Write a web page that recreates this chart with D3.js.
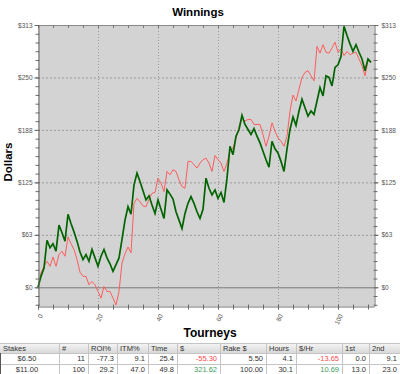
<!DOCTYPE html>
<html>
<head>
<meta charset="utf-8">
<script src="https://cdn.jsdelivr.net/npm/d3@7"></script>
<style>
  body { margin: 0; background: #fff; }
  svg { display: block; font-family: "Liberation Sans", Arial, sans-serif; }
</style>
</head>
<body>
<div id="mainDiv"></div>
<script>
'use strict';

// cumulative dollars after each tourney (green = actual, red = second line)
var winnings = [
  0, 13, 23, 56, 47, 52, 43, 74, 65, 55,
  87, 76, 66, 55, 42, 33, 39, 31, 45, 35,
  25, 37, 45, 35, 28, 19, 27, 35, 57, 80,
  96, 87, 122, 136, 126, 115, 104, 109, 98, 88,
  104, 93, 82, 116, 111, 105, 90, 80, 70, 88,
  100, 108, 100, 90, 82, 93, 130, 118, 110, 116,
  106, 113, 101, 130, 168, 158, 180, 188, 205, 194,
  188, 182, 189, 180, 172, 162, 152, 143, 174, 165,
  160, 150, 138, 165, 188, 203, 193, 210, 224, 214,
  204, 210, 206, 222, 238, 228, 252, 250, 240, 262,
  265, 275, 311, 300, 290, 281, 289, 280, 272, 258,
  272, 268
];
var expected = [
  0, 17, 25, 31, 25, 36, 25, 39, 43, 37,
  60, 52, 45, 33, 18, 13, 13, 3, 7, 3,
  -5, -13, 1, -5, -5, -13, -21, -5, 29, 40,
  48, 41, 100, 106, 102, 97, 96, 105, 112, 113,
  130, 124, 114, 138, 134, 140, 138, 128, 120, 118,
  150, 150, 146, 142, 148, 152, 154, 148, 138, 157,
  152, 148, 138, 148, 162, 166, 178, 190, 202, 198,
  200, 200, 194, 194, 194, 182, 168, 180, 196, 186,
  178, 174, 168, 180, 210, 229, 222, 236, 250, 256,
  258, 252, 246, 287, 279, 289, 280, 279, 285, 292,
  280, 284, 276, 281, 277, 279, 280, 272, 264, 252,
  270, 268
];

var yTicks = [0, 62.5, 125, 187.5, 250, 312.5];
var xTicks = [0, 20, 40, 60, 80, 100];

// table
var tableCols = ['Stakes', '#', 'ROI%', 'ITM%', 'Time', '$', 'Rake $', 'Hours', '$/Hr', '1st', '2nd'];
var tableRows = [
  ['$6.50', '11', '-77.3', '9.1', '25.4', '-55.30', '5.50', '4.1', '-13.65', '0.0', '9.1'],
  ['$11.00', '100', '29.2', '47.0', '49.8', '321.62', '100.00', '30.1', '10.69', '13.0', '23.0']
];
var colEdges = [0, 59, 88, 117, 148, 177, 220, 266, 296, 342, 369, 400];

var W = 400, H = 374;
var plot = {left: 38, right: 374, top: 25, bottom: 306};

var svg = d3.select('#mainDiv').append('svg')
  .attr('width', W)
  .attr('height', H);

var x = d3.scaleLinear().domain([0, 112]).range([plot.left, plot.right]);
var y = d3.scaleLinear().domain([-22.3, 312.5]).range([plot.bottom, plot.top]);

// title
svg.append('text')
  .attr('x', 198).attr('y', 16)
  .attr('text-anchor', 'middle')
  .style('font-size', '11.5px').style('font-weight', 'bold')
  .text('Winnings');

svg.append('text')
  .attr('transform', 'translate(12,' + 162 + ') rotate(-90)')
  .attr('text-anchor', 'middle')
  .style('font-size', '11.5px').style('font-weight', 'bold')
  .text('Dollars');

// plot background
svg.append('rect')
  .attr('x', plot.left).attr('y', plot.top)
  .attr('width', plot.right - plot.left)
  .attr('height', plot.bottom - plot.top)
  .attr('fill', '#d3d3d3');

// grid
svg.append('g').selectAll('line')
  .data(yTicks.filter(function(d) { return d > 0 && d < 312.5; }))
  .enter().append('line')
  .attr('x1', plot.left).attr('x2', plot.right)
  .attr('y1', function(d) { return y(d) + 0.5; })
  .attr('y2', function(d) { return y(d) + 0.5; })
  .attr('stroke', '#9a9a9a').attr('stroke-dasharray', '2,2');

svg.append('g').selectAll('line')
  .data(xTicks.filter(function(d) { return d > 0; }))
  .enter().append('line')
  .attr('x1', function(d) { return x(d) + 0.5; })
  .attr('x2', function(d) { return x(d) + 0.5; })
  .attr('y1', plot.top).attr('y2', plot.bottom)
  .attr('stroke', '#9a9a9a').attr('stroke-dasharray', '1,2');

svg.append('line')
  .attr('x1', plot.left).attr('x2', plot.right)
  .attr('y1', y(0) + 0.5).attr('y2', y(0) + 0.5)
  .attr('stroke', '#7a7a7a');

// top border with small inward ticks
svg.append('line')
  .attr('x1', plot.left).attr('x2', plot.right)
  .attr('y1', plot.top + 0.5).attr('y2', plot.top + 0.5)
  .attr('stroke', '#8a8a8a');

var minorX = d3.range(0, 113, 5);
var minorY = d3.range(-2, 31).map(function(k) { return k * 312.5 / 30; });

svg.append('g').selectAll('line')
  .data(minorX)
  .enter().append('line')
  .attr('x1', function(d) { return x(d) + 0.5; })
  .attr('x2', function(d) { return x(d) + 0.5; })
  .attr('y1', plot.top).attr('y2', plot.top + 3)
  .attr('stroke', '#777');

// lines
var line = d3.line()
  .x(function(d, i) { return x(i); })
  .y(function(d) { return y(d); });

svg.append('path')
  .datum(expected)
  .attr('fill', 'none')
  .attr('stroke', '#ff5c5c')
  .attr('stroke-width', 1)
  .attr('d', line);

svg.append('path')
  .datum(winnings)
  .attr('fill', 'none')
  .attr('stroke', '#006400')
  .attr('stroke-width', 1.7)
  .attr('stroke-linejoin', 'miter')
  .attr('d', line);

// axes
function styleAxis(g) {
  g.select('.domain').attr('stroke', '#6a6a6a');
  g.selectAll('.tick line').attr('stroke', '#6a6a6a');
  g.selectAll('text').attr('fill', '#555').style('font-size', '6.5px');
}

var fmt = function(d) { return '$' + Math.round(d); };

svg.append('g')
  .attr('transform', 'translate(' + (plot.left + 0.5) + ',0)')
  .call(d3.axisLeft(y).tickValues(minorY).tickSize(3).tickFormat(''))
  .call(function(g) { g.select('.domain').remove(); g.selectAll('.tick line').attr('x2', -3).attr('x1', 1).attr('stroke', '#6a6a6a'); });

svg.append('g')
  .attr('transform', 'translate(' + (plot.left + 0.5) + ',0)')
  .call(d3.axisLeft(y).tickValues(yTicks).tickSize(4).tickSizeOuter(0).tickPadding(2).tickFormat(fmt))
  .call(styleAxis);

svg.append('g')
  .attr('transform', 'translate(' + (plot.right + 0.5) + ',0)')
  .call(d3.axisRight(y).tickValues(minorY).tickSize(3).tickFormat(''))
  .call(function(g) { g.select('.domain').remove(); g.selectAll('.tick line').attr('x1', -1).attr('stroke', '#6a6a6a'); });

svg.append('g')
  .attr('transform', 'translate(' + (plot.right + 0.5) + ',0)')
  .call(d3.axisRight(y).tickValues(yTicks).tickSize(4).tickSizeOuter(0).tickPadding(3).tickFormat(fmt))
  .call(styleAxis);

svg.append('g')
  .attr('transform', 'translate(0,' + (plot.bottom + 0.5) + ')')
  .call(d3.axisBottom(x).tickValues(minorX).tickSize(3).tickFormat(''))
  .call(function(g) { g.select('.domain').remove(); g.selectAll('.tick line').attr('y1', -2).attr('stroke', '#6a6a6a'); });

var xAxisGroup = svg.append('g')
  .attr('transform', 'translate(0,' + (plot.bottom + 0.5) + ')')
  .call(d3.axisBottom(x).tickValues(xTicks).tickSize(3).tickSizeOuter(0).tickFormat(d3.format('d')))
  .call(styleAxis);

xAxisGroup.selectAll('text')
  .attr('x', 0).attr('y', 0).attr('dy', '0.35em')
  .attr('text-anchor', 'end')
  .attr('transform', 'translate(2.5,8) rotate(-65)');

// table
svg.append('text')
  .attr('x', 210).attr('y', 337)
  .attr('text-anchor', 'middle')
  .style('font-size', '12px').style('font-weight', 'bold')
  .text('Tourneys');

var grad = svg.append('defs').append('linearGradient')
  .attr('id', 'hdr').attr('x1', 0).attr('x2', 0).attr('y1', 0).attr('y2', 1);
grad.append('stop').attr('offset', '0%').attr('stop-color', '#f6f6f6');
grad.append('stop').attr('offset', '100%').attr('stop-color', '#d9d9d9');

var rowTop = [343, 353, 363.5];
var rowH = [10, 10.5, 10.5];

var table = svg.append('g').style('font-size', '7.5px');

table.append('rect')
  .attr('x', 0).attr('y', rowTop[0])
  .attr('width', W).attr('height', rowH[0])
  .attr('fill', 'url(#hdr)');

// grid lines of the table
table.selectAll('.hline')
  .data([rowTop[0], rowTop[1], rowTop[2], H - 0.5])
  .enter().append('line')
  .attr('x1', 0).attr('x2', W)
  .attr('y1', function(d) { return Math.round(d) + 0.5; })
  .attr('y2', function(d) { return Math.round(d) + 0.5; })
  .attr('stroke', '#c4c4c4');

table.selectAll('.vline')
  .data(colEdges.slice(1, -1))
  .enter().append('line')
  .attr('x1', function(d) { return d + 0.5; })
  .attr('x2', function(d) { return d + 0.5; })
  .attr('y1', rowTop[0]).attr('y2', H)
  .attr('stroke', '#c4c4c4');

table.append('line')
  .attr('x1', 0.5).attr('x2', 0.5)
  .attr('y1', rowTop[1]).attr('y2', H)
  .attr('stroke', '#555');

table.selectAll('.hd')
  .data(tableCols)
  .enter().append('text')
  .attr('x', function(d, i) { return colEdges[i] + 3; })
  .attr('y', rowTop[0] + 7.8)
  .attr('fill', '#333')
  .text(function(d) { return d; });

function cellColor(r, c) {
  if (c === 5 || c === 8) {
    return tableRows[r][c].charAt(0) === '-' ? '#ff4a4a' : '#3c9a5e';
  }
  return '#333';
}

tableRows.forEach(function(row, r) {
  table.selectAll('.r' + r)
    .data(row)
    .enter().append('text')
    .attr('x', function(d, i) { return i === 0 ? 27 : colEdges[i + 1] - 3; })
    .attr('y', rowTop[r + 1] + 8)
    .attr('text-anchor', function(d, i) { return i === 0 ? 'middle' : 'end'; })
    .attr('fill', function(d, i) { return cellColor(r, i); })
    .text(function(d) { return d; });
});
</script>
</body>
</html>
